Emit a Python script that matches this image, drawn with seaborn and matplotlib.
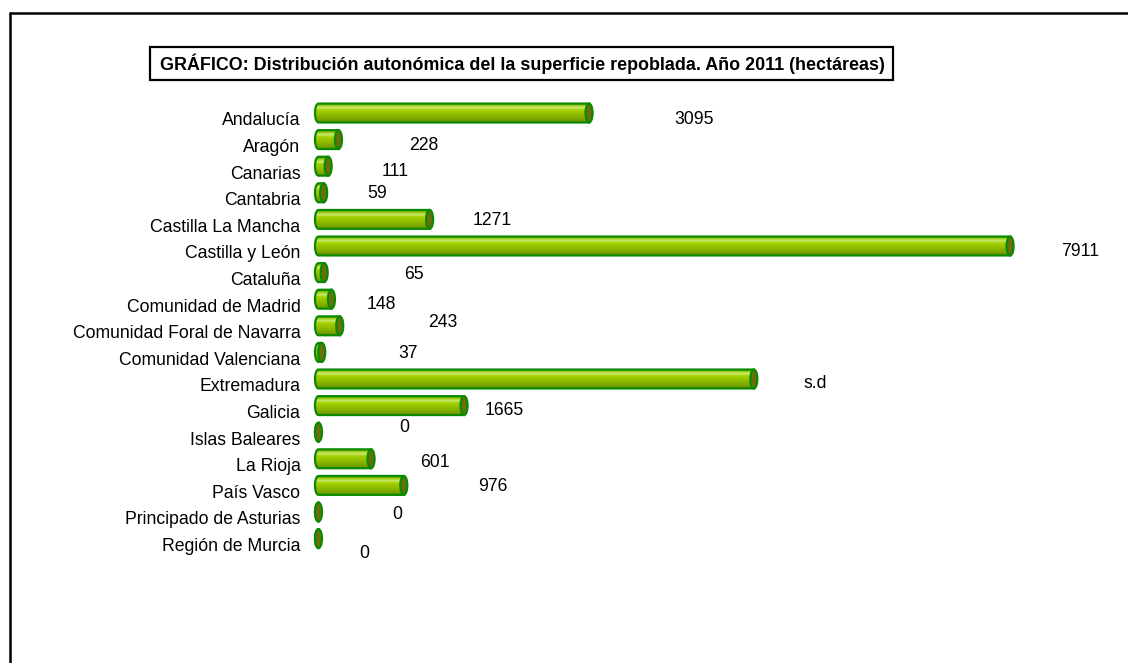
import numpy as np
import pandas as pd
import matplotlib
matplotlib.use("Agg")
import matplotlib.pyplot as plt
import seaborn as sns
from matplotlib.patches import Polygon, Ellipse, Rectangle
from matplotlib.lines import Line2D
from matplotlib.colors import to_rgb
from matplotlib.transforms import ScaledTranslation

# ---- data ----
categories = ["Andalucía", "Aragón", "Canarias", "Cantabria", "Castilla La Mancha",
              "Castilla y León", "Cataluña", "Comunidad de Madrid",
              "Comunidad Foral de Navarra", "Comunidad Valenciana", "Extremadura",
              "Galicia", "Islas Baleares", "La Rioja", "País Vasco",
              "Principado de Asturias", "Región de Murcia"]
values = [3095, 228, 111, 59, 1271, 7911, 65, 148, 243, 37, 4980, 1665, 0, 601, 976, 0, 0]
value_labels = ["3095", "228", "111", "59", "1271", "7911", "65", "148", "243", "37",
                "s.d", "1665", "0", "601", "976", "0", "0"]
title = "GRÁFICO: Distribución autonómica del la superficie repoblada. Año 2011 (hectáreas)"

# label placement (pixel offsets from bar end, as in the reference)
label_dx = [105, 85, 67, 54, 63, 70, 90, 50, 103, 86, 61, 40, 86, 64, 89, 79, 46]
label_dy = [7, 6, 5, 1, 1, 6, 2, 5, -3, 1, 5, 5, -5, 4, 1, 3, 15]

# ---- figure ----
W, H = 1128, 663
sns.set_theme(style="white")
plt.rcParams["font.family"] = ["Liberation Sans", "DejaVu Sans"]

fig = plt.figure(figsize=(W / 100, H / 100), dpi=100)
zero_px, ax_right = 318.5, 1105.3
xmax = 9000
px_per_unit = (ax_right - zero_px) / xmax
margin_px = 12
ax_left = zero_px - margin_px
xmin = -margin_px / px_per_unit
row0, step = 113.0, 26.6
n = len(categories)
ax_top = row0 - step / 2
ax_bot = row0 + (n - 1) * step + step / 2
ax = fig.add_axes([ax_left / W, 1 - ax_bot / H, (ax_right - ax_left) / W, (ax_bot - ax_top) / H])

df = pd.DataFrame({"cat": categories, "val": values})
bar_h = 0.71
sns.barplot(data=df, y="cat", x="val", orient="h", color="#8cba00", width=bar_h,
            linewidth=0, ax=ax, saturation=1)

cap_w = 7.0 / px_per_unit

# gradient for cylinder body
stops = [(0.0, "#3f9a00"), (0.10, "#94c800"), (0.24, "#cbe975"), (0.36, "#a6d200"),
         (0.65, "#8cba00"), (1.0, "#6a9400")]
N = 64
grad = np.zeros((N, 1, 3))
pos = np.linspace(0, 1, N)
sp = [s[0] for s in stops]
for ch in range(3):
    grad[:, 0, ch] = np.interp(pos, sp, [to_rgb(s[1])[ch] for s in stops])

edge = "#0a8a00"
for p in list(ax.patches):
    x0 = p.get_x()
    wv = p.get_width()
    y0 = p.get_y()
    hv = p.get_height()
    c = y0 + hv / 2
    x1 = x0 + wv
    t = np.linspace(np.pi / 2, 3 * np.pi / 2, 40)
    left = np.column_stack([x0 + cap_w / 2 * np.cos(t), c - hv / 2 * np.sin(t)])
    verts = np.vstack([left, [[x1, c + hv / 2], [x1, c - hv / 2]]])
    poly = Polygon(verts, closed=True, facecolor="none", edgecolor=edge, lw=1.6,
                   zorder=4, clip_on=False)
    ax.add_patch(poly)
    im = ax.imshow(grad, extent=(x0 - cap_w, x1 + 1, c + hv / 2, c - hv / 2),
                   origin="upper", aspect="auto", zorder=3, interpolation="bilinear")
    im.set_clip_path(poly)
    cap = Ellipse((x1, c), cap_w, hv, facecolor="#6b6e0c", edgecolor=edge, lw=1.6,
                  zorder=5, clip_on=False)
    ax.add_patch(cap)
    p.set_visible(False)

ax.set_xlim(xmin, xmax)
ax.set_ylim(n - 0.5, -0.5)

# value labels
for i, (v, lab) in enumerate(zip(values, value_labels)):
    ax.annotate(lab, xy=(v, i), xytext=(label_dx[i], -label_dy[i]),
                textcoords="offset pixels", ha="center", va="center",
                fontsize=12.7, color="#000000", annotation_clip=False)

# axes styling
for s in ax.spines.values():
    s.set_visible(False)
ax.set_xticks([])
ax.set_xlabel("")
ax.set_ylabel("")
ax.tick_params(axis="y", length=0, pad=13 - margin_px * 0.72, labelsize=12.7, colors="#000000")
off = ScaledTranslation(0, -6 / 100, fig.dpi_scale_trans)
for lbl in ax.get_yticklabels():
    lbl.set_transform(lbl.get_transform() + off)
ax.set_facecolor("white")

# title box
fig.add_artist(Rectangle((150 / W, 1 - 80 / H), 743 / W, 33 / H, transform=fig.transFigure,
                         fill=False, edgecolor="black", lw=1.6))
fig.text(160 / W, 1 - 64 / H, title, fontsize=12.9, fontweight="bold",
         ha="left", va="center", color="black")

# outer frame (top and left)
fig.add_artist(Line2D([10 / W, 1], [1 - 13 / H, 1 - 13 / H], transform=fig.transFigure,
                      color="black", lw=1.8))
fig.add_artist(Line2D([10 / W, 10 / W], [1 - 13 / H, 0], transform=fig.transFigure,
                      color="black", lw=1.8))

fig.savefig("out.png", dpi=100, facecolor="white")
